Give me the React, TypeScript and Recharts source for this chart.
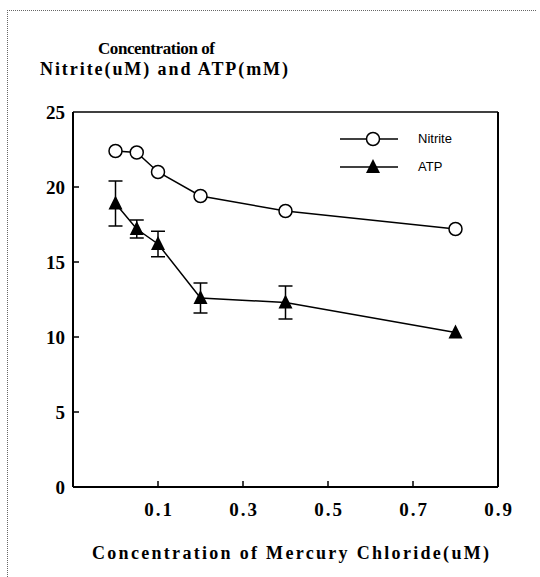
import { LineChart, Line, XAxis, YAxis, ErrorBar, ReferenceLine, Legend } from "recharts";

const concentrations = [0, 0.05, 0.1, 0.2, 0.4, 0.8];
const nitrite = [22.4, 22.3, 21.0, 19.4, 18.4, 17.2];
const atp = [18.9, 17.2, 16.2, 12.6, 12.3, 10.3];
const atpError = [1.5, 0.6, 0.85, 1.0, 1.1, 0];
const xTicks = [0.1, 0.3, 0.5, 0.7, 0.9];
const yTicks = [0, 5, 10, 15, 20, 25];

const SERIF = '"Liberation Serif", "Times New Roman", serif';
const SANS = '"Liberation Sans", Arial, sans-serif';

const data = concentrations.map((x, i) => ({ x, nitrite: nitrite[i], atp: atp[i], atpErr: atpError[i] }));

const circleDot = (p: any) => (
  <circle key={`c${p.index}`} cx={p.cx} cy={p.cy} r={6.5} fill="#fff" stroke="#000" strokeWidth={1.5} />
);

const triangleDot = (p: any) => (
  <polygon
    key={`t${p.index}`}
    points={`${p.cx},${p.cy - 8} ${p.cx - 7},${p.cy + 6} ${p.cx + 7},${p.cy + 6}`}
    fill="#000"
  />
);

const XTick = ({ x, y, payload }: any) => (
  <g>
    {payload.value < 0.9 && <line x1={x} y1={y} x2={x} y2={y - 6} stroke="#000" strokeWidth={1.5} />}
    <text x={x + 1} y={y + 29} textAnchor="middle" fontFamily={SERIF} fontWeight="bold" fontSize={19} letterSpacing={2}>
      {payload.value.toFixed(1)}
    </text>
  </g>
);

const YTick = ({ x, y, payload }: any) => (
  <g>
    {payload.value > 0 && payload.value < 25 && <line x1={x} y1={y} x2={x + 6} y2={y} stroke="#000" strokeWidth={1.5} />}
    <text x={x - 8} y={y + 7} textAnchor="end" fontFamily={SERIF} fontWeight="bold" fontSize={19}>
      {payload.value}
    </text>
  </g>
);

const LegendBox = () => (
  <div style={{ position: "relative", width: 140, height: 0, fontFamily: SANS, fontSize: 13 }}>
    <svg width={60} height={20} style={{ position: "absolute", left: 0, top: 0 }}>
      <line x1={0} y1={10} x2={58} y2={10} stroke="#000" strokeWidth={1.5} />
      <circle cx={33} cy={10} r={6.5} fill="#fff" stroke="#000" strokeWidth={1.5} />
    </svg>
    <span style={{ position: "absolute", left: 78, top: 2 }}>Nitrite</span>
    <svg width={60} height={20} style={{ position: "absolute", left: 0, top: 28 }}>
      <line x1={0} y1={10} x2={58} y2={10} stroke="#000" strokeWidth={1.5} />
      <polygon points="33,2 26,16 40,16" fill="#000" />
    </svg>
    <span style={{ position: "absolute", left: 78, top: 30 }}>ATP</span>
  </div>
);

export default function App() {
  return (
    <div style={{ position: "absolute", left: 0, top: 0, width: 540, height: 577, background: "#fff", overflow: "hidden" }}>
      <div style={{ position: "absolute", left: 7, top: 10, width: 528, height: 580, borderTop: "1px dotted #666", borderLeft: "1px dotted #666" }} />
      <LineChart width={540} height={577} data={data} margin={{ top: 112, right: 42, bottom: 0, left: 0 }}>
        <XAxis
          dataKey="x"
          type="number"
          domain={[-0.1, 0.9]}
          ticks={xTicks}
          height={90}
          tickSize={0}
          tickMargin={0}
          tick={<XTick />}
          tickLine={false}
          axisLine={{ stroke: "#000", strokeWidth: 2 }}
          allowDataOverflow
        />
        <YAxis
          type="number"
          domain={[0, 25]}
          ticks={yTicks}
          width={73}
          tickSize={0}
          tickMargin={0}
          tick={<YTick />}
          tickLine={false}
          axisLine={{ stroke: "#000", strokeWidth: 2 }}
        />
        <ReferenceLine y={25} stroke="#000" strokeWidth={1.5} />
        <ReferenceLine x={0.9} stroke="#000" strokeWidth={2} />
        <Legend
          content={<LegendBox />}
          wrapperStyle={{ position: "absolute", left: 340, top: 129, width: 140, height: 0, overflow: "visible" }}
        />
        <Line dataKey="nitrite" stroke="#000" strokeWidth={1.5} dot={circleDot} isAnimationActive={false} />
        <Line dataKey="atp" stroke="#000" strokeWidth={1.5} dot={triangleDot} isAnimationActive={false}>
          <ErrorBar dataKey="atpErr" width={7} stroke="#000" strokeWidth={1.5} direction="y" />
        </Line>
      </LineChart>
      <svg width={540} height={577} style={{ position: "absolute", left: 0, top: 0, pointerEvents: "none" }}>
        <g fontFamily={SERIF} fontWeight="bold" fill="#000" style={{ whiteSpace: "pre" }}>
          <text x={98} y={54} fontSize={17} textLength={117} lengthAdjust="spacing">Concentration of</text>
          <text x={40} y={75} fontSize={18} textLength={248} lengthAdjust="spacing">Nitrite(uM)  and  ATP(mM)</text>
          <text x={92} y={559} fontSize={18} textLength={397} lengthAdjust="spacing">Concentration  of  Mercury  Chloride(uM)</text>
        </g>
      </svg>
    </div>
  );
}
